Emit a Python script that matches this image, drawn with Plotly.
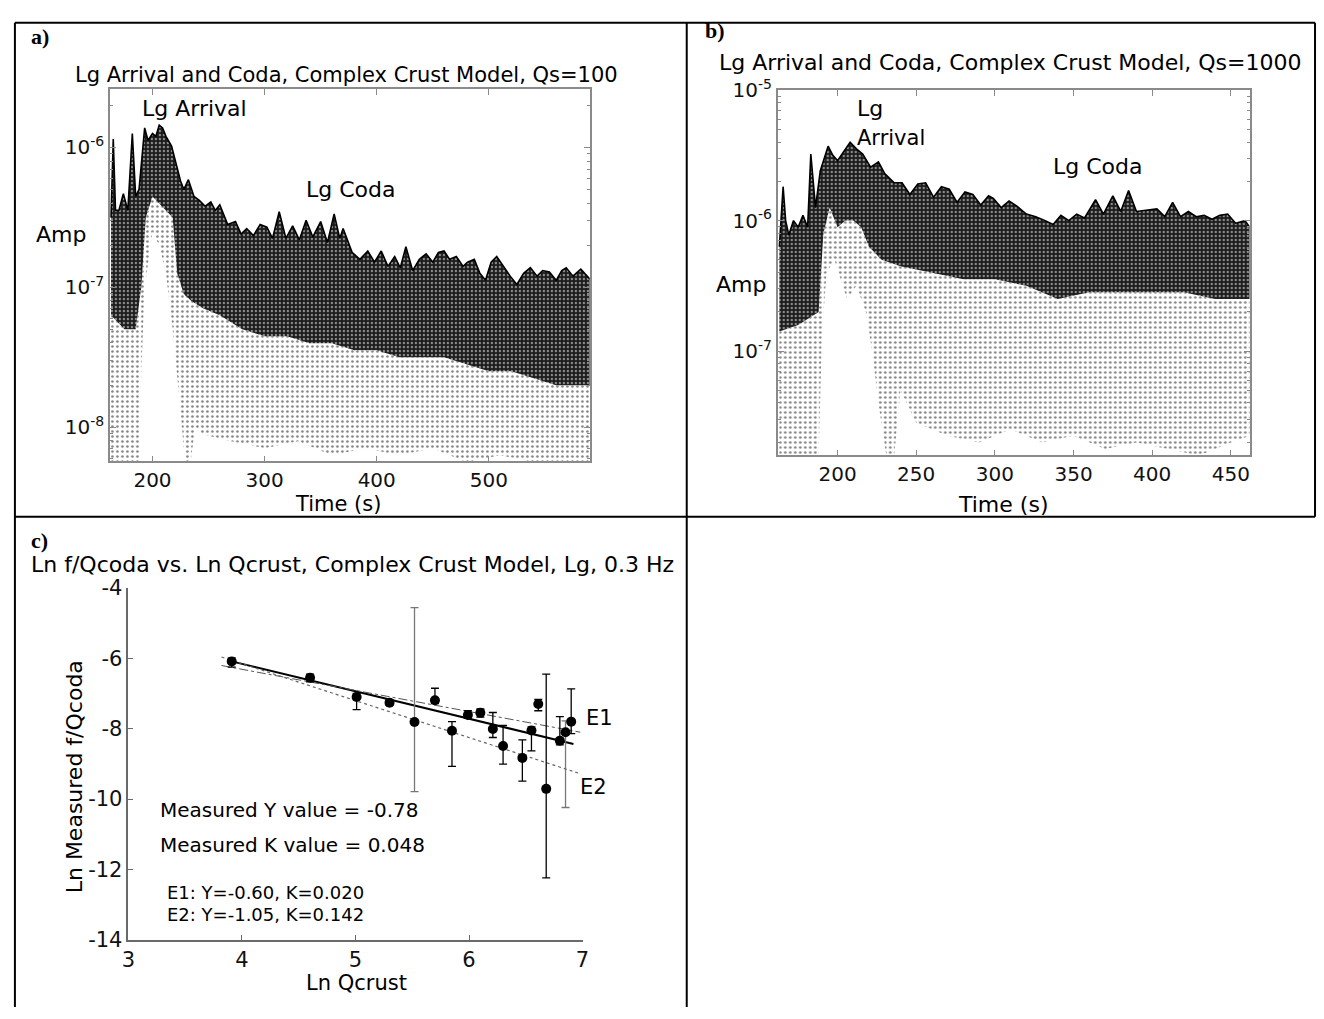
import numpy as np
import plotly.graph_objects as go

W, H = 1324, 1019
FONT = "DejaVu Sans"

# ---------------- panel a: Qs=100 (log10 amplitude readings) ----------------
a_top_t = [163, 165, 167, 170, 174, 178, 182, 185, 188, 193, 196, 200, 203, 206, 209, 212, 217, 222, 225, 228,
           232, 237, 242, 247, 252, 256, 260, 267, 274, 279, 284, 290, 296, 302, 307, 313, 319, 325, 331, 337,
           343, 350, 356, 362, 367, 370, 378, 385, 392, 398, 404, 410, 416, 421, 426, 432, 438, 444, 450, 455,
           460, 465, 471, 477, 481, 487, 492, 497, 502, 507, 513, 519, 525, 531, 537, 543, 548, 554, 560, 565,
           569, 575, 582, 590]
a_top_log = [-6.50, -5.94, -6.45, -6.45, -6.33, -6.45, -5.90, -6.35, -6.30, -5.86, -5.95, -5.90, -5.92, -5.84,
             -5.86, -5.92, -5.99, -6.15, -6.24, -6.30, -6.23, -6.35, -6.38, -6.42, -6.39, -6.45, -6.41, -6.55,
             -6.53, -6.62, -6.58, -6.63, -6.55, -6.57, -6.65, -6.46, -6.65, -6.56, -6.66, -6.52, -6.64, -6.53,
             -6.68, -6.475, -6.65, -6.58, -6.75, -6.80, -6.74, -6.82, -6.74, -6.85, -6.78, -6.86, -6.71, -6.88,
             -6.80, -6.76, -6.82, -6.75, -6.74, -6.80, -6.78, -6.85, -6.82, -6.80, -6.90, -6.95, -6.82, -6.78,
             -6.85, -6.92, -6.98, -6.90, -6.86, -6.92, -6.88, -6.89, -6.95, -6.88, -6.86, -6.92, -6.87, -6.94]
a_band_t = [163, 175, 185, 190, 194, 200, 206, 212, 218, 222, 228, 235, 245, 260, 280, 300, 320, 340, 360, 380,
            400, 420, 440, 460, 480, 500, 520, 540, 560, 590]
a_band_log = [-7.20, -7.30, -7.30, -7.00, -6.50, -6.35, -6.40, -6.45, -6.50, -6.90, -7.05, -7.10, -7.15, -7.20,
              -7.30, -7.35, -7.35, -7.40, -7.40, -7.45, -7.45, -7.50, -7.50, -7.50, -7.55, -7.60, -7.60, -7.65,
              -7.70, -7.70]
a_floor_t = [163, 188, 190, 193, 200, 206, 212, 218, 224, 229, 234, 238, 245, 270, 300, 330, 360, 390, 420, 450,
             480, 510, 540, 570, 590]
a_floor_log = [-8.25, -8.25, -7.60, -7.00, -6.60, -6.70, -6.90, -7.30, -7.80, -8.25, -8.25, -8.00, -8.05, -8.10,
               -8.15, -8.10, -8.20, -8.15, -8.20, -8.15, -8.25, -8.20, -8.25, -8.25, -8.25]
a_xticks = [200, 300, 400, 500]

# ---------------- panel b: Qs=1000 ----------------
b_top_t = [163, 165.4, 167, 169, 172, 175, 178, 181, 183, 186, 189, 194, 197, 200, 204, 208, 212, 216, 221, 226,
           230, 236, 241, 246, 251, 256, 261, 266, 271, 276, 281, 286, 291, 296, 299, 304, 309, 314, 320, 326,
           332, 337, 342, 347, 352, 357, 364, 369, 375, 380, 385, 390, 396, 403, 408, 413, 418, 423, 428, 433,
           438, 443, 448, 453, 459, 462]
b_top_log = [-6.20, -5.74, -6.00, -6.11, -6.00, -6.05, -5.96, -6.05, -5.49, -5.90, -5.62, -5.43, -5.50, -5.54,
             -5.47, -5.40, -5.45, -5.49, -5.59, -5.55, -5.64, -5.71, -5.71, -5.80, -5.72, -5.71, -5.82, -5.74,
             -5.76, -5.86, -5.78, -5.80, -5.88, -5.81, -5.83, -5.90, -5.85, -5.89, -5.95, -5.97, -6.00, -6.03,
             -5.96, -6.00, -5.95, -5.98, -5.84, -5.95, -5.81, -5.93, -5.77, -5.93, -5.92, -5.91, -5.97, -5.86,
             -5.97, -5.93, -5.97, -5.96, -5.99, -5.96, -5.95, -6.02, -6.00, -6.05]
b_band_t = [163, 175, 188, 191, 195, 200, 205, 210, 215, 220, 228, 240, 260, 280, 300, 320, 340, 360, 380, 400,
            420, 440, 462]
b_band_log = [-6.85, -6.80, -6.70, -6.10, -5.90, -6.05, -6.00, -6.00, -6.05, -6.20, -6.30, -6.35, -6.40, -6.45,
              -6.45, -6.50, -6.60, -6.55, -6.55, -6.55, -6.55, -6.60, -6.60]
b_floor_t = [163, 188, 190, 193, 198, 206, 212, 218, 222, 226, 231, 236, 240, 250, 270, 290, 310, 330, 350, 370,
             390, 410, 430, 450, 462]
b_floor_log = [-7.80, -7.80, -6.90, -6.40, -6.30, -6.60, -6.50, -6.70, -7.00, -7.40, -7.80, -7.80, -7.30, -7.55,
               -7.65, -7.70, -7.60, -7.70, -7.65, -7.75, -7.70, -7.75, -7.80, -7.70, -7.65]
b_xticks = [200, 250, 300, 350, 400, 450]

# ---------------- panel c: Ln f/Qcoda vs Ln Qcrust ----------------
ln_qcrust = [3.91, 4.60, 5.01, 5.30, 5.52, 5.70, 5.85, 5.99, 6.10, 6.21, 6.30, 6.47, 6.55, 6.61, 6.68, 6.80, 6.85, 6.90]
ln_fqcoda = [-6.09, -6.55, -7.10, -7.26, -7.81, -7.19, -8.06, -7.61, -7.55, -8.01, -8.49, -8.83, -8.05, -7.30,
             -9.71, -8.34, -8.10, -7.80]
err_up = [0.10, 0.10, 0.10, 0.08, 3.25, 0.34, 0.26, 0.12, 0.11, 0.47, 0.58, 0.51, 0.10, 0.13, 3.26, 0.68, 0.32, 0.93]
err_down = [0.16, 0.12, 0.36, 0.08, 1.98, 0.10, 1.01, 0.09, 0.12, 0.24, 0.52, 0.66, 0.58, 0.19, 2.53, 0.12, 2.14, 0.34]
gray_bars = [4, 16]

fit_Y, fit_K = -0.78, 0.048
e1_Y, e1_K = -0.60, 0.020
e2_Y, e2_K = -1.05, 0.142
fit_span = [3.91, 6.92]
bound_span = [3.82, 6.98]


def px(x):
    return x / W


def py(y):
    return 1 - y / H


fig = go.Figure()


def add_wave(t_floor, floor, t_band, band, t_top, top, xa, ya):
    # sparse scatter of low samples, dense cloud, and the upper edge of the traces
    fig.add_trace(go.Scatter(x=t_floor, y=10 ** np.array(floor), mode="lines", line=dict(width=0),
                             xaxis=xa, yaxis=ya, hoverinfo="skip"))
    fig.add_trace(go.Scatter(x=t_band, y=10 ** np.array(band), mode="lines", line=dict(width=0),
                             fill="tonexty",
                             fillpattern=dict(shape=".", fgcolor="black", bgcolor="white", size=5, solidity=0.2),
                             xaxis=xa, yaxis=ya, hoverinfo="skip"))
    fig.add_trace(go.Scatter(x=t_top, y=10 ** np.array(top), mode="lines", line=dict(color="black", width=1.6),
                             fill="tonexty",
                             fillpattern=dict(shape=".", fgcolor="white", bgcolor="#1c1c1c", size=4, solidity=0.28),
                             xaxis=xa, yaxis=ya, hoverinfo="skip"))


add_wave(a_floor_t, a_floor_log, a_band_t, a_band_log, a_top_t, a_top_log, "x", "y")
add_wave(b_floor_t, b_floor_log, b_band_t, b_band_log, b_top_t, b_top_log, "x2", "y2")

# fitted line and the two bounding lines, from the stated Y and K values
for (Y, K, span, dash, width, color) in [(fit_Y, fit_K, fit_span, "solid", 2, "black"),
                                         (e1_Y, e1_K, bound_span, "dashdot", 1, "#555"),
                                         (e2_Y, e2_K, bound_span, "dot", 1.2, "#666")]:
    xs = np.array(span)
    fig.add_trace(go.Scatter(x=xs, y=np.log(K) + Y * xs, mode="lines",
                             line=dict(color=color, width=width, dash=dash),
                             xaxis="x3", yaxis="y3", hoverinfo="skip"))

# error bars (two long ones drawn in grey)
for idx, col in [([i for i in range(len(ln_qcrust)) if i not in gray_bars], "black"), (gray_bars, "#777")]:
    fig.add_trace(go.Scatter(
        x=[ln_qcrust[i] for i in idx], y=[ln_fqcoda[i] for i in idx], mode="markers",
        marker=dict(size=1, color="rgba(0,0,0,0)"),
        error_y=dict(type="data", symmetric=False, array=[err_up[i] for i in idx],
                     arrayminus=[err_down[i] for i in idx], color=col, thickness=1.3, width=4),
        xaxis="x3", yaxis="y3", hoverinfo="skip"))

fig.add_trace(go.Scatter(x=ln_qcrust, y=ln_fqcoda, mode="markers",
                         marker=dict(size=10, color="black"), xaxis="x3", yaxis="y3"))

frame = dict(showline=True, linecolor="#8a8a8a", linewidth=1.5, mirror="ticks", ticks="inside", ticklen=6,
             tickcolor="#8a8a8a", showgrid=False, zeroline=False,
             tickfont=dict(family=FONT, size=20, color="#111"))
minor_log = dict(ticks="inside", ticklen=3, tickcolor="#8a8a8a", dtick="D1", showgrid=False)

c_axis = dict(showline=True, linecolor="#6a6a6a", linewidth=1.5, mirror=False, ticks="inside", ticklen=5,
              tickcolor="#6a6a6a", showgrid=False, zeroline=False,
              tickfont=dict(family=FONT, size=21, color="#111"))

c_yticks = [-14, -12, -10, -8, -6, -4]
c_xticks = [3, 4, 5, 6, 7]

fig.update_layout(
    width=W, height=H, margin=dict(l=0, r=0, t=0, b=0),
    paper_bgcolor="white", plot_bgcolor="white", showlegend=False,
    xaxis=dict(domain=[px(104), px(589)], range=[162, 590], anchor="y", tickvals=a_xticks, **frame),
    yaxis=dict(domain=[py(459), py(77)], type="log", range=[-8.244, -5.582], anchor="x",
               tickvals=[1e-8, 1e-7, 1e-6],
               ticktext=["10<sup>-8</sup>", "10<sup>-7</sup>", "10<sup>-6</sup>"],
               minor=minor_log, **frame),
    xaxis2=dict(domain=[px(779), px(1256)], range=[162, 462], anchor="y2", tickvals=b_xticks, **frame),
    yaxis2=dict(domain=[py(453), py(78)], type="log", range=[-7.80, -4.999], anchor="x2",
                tickvals=[1e-7, 1e-6, 1e-5],
                ticktext=["10<sup>-7</sup>", "10<sup>-6</sup>", "10<sup>-5</sup>"],
                minor=minor_log, **frame),
    xaxis3=dict(domain=[px(122.7), px(581.7)], range=[3, 7], anchor="y3", tickvals=c_xticks,
                ticktext=[str(v) for v in c_xticks], **c_axis),
    yaxis3=dict(domain=[py(950), py(589)], range=[-14, -4], anchor="x3", tickvals=c_yticks,
                ticktext=[str(v) for v in c_yticks], **c_axis),
)


def label(text, x, y, size=21, xanchor="center", family=FONT, angle=0, bold=False):
    fig.add_annotation(text=f"<b>{text}</b>" if bold else text, x=px(x), y=py(y), xref="paper", yref="paper",
                       showarrow=False, xanchor=xanchor, yanchor="middle", textangle=angle,
                       font=dict(family=family, size=size, color="black"))


# panel a texts
label("a)", 22, 23, size=22, xanchor="left", family="Liberation Serif", bold=True)
label("Lg Arrival and Coda, Complex Crust Model, Qs=100", 343, 63, size=21)
label("Lg Arrival", 189, 97, size=22)
label("Lg Coda", 347, 180, size=22)
label("Amp", 55, 226, size=22)
label("Time (s)", 335, 503, size=21)

# panel b texts
label("b)", 703, 17, size=22, xanchor="left", family="Liberation Serif", bold=True)
label("Lg Arrival and Coda, Complex Crust Model, Qs=1000", 718, 50, size=22, xanchor="left")
label("Lg", 872, 97, size=22)
label("Arrival", 893, 127, size=21)
label("Lg Coda", 1102, 157, size=22)
label("Amp", 742, 278, size=22)
label("Time (s)", 1007, 503, size=22)

# panel c texts
label("c)", 22, 540, size=22, xanchor="left", family="Liberation Serif", bold=True)
label("Ln f/Qcoda vs. Ln Qcrust, Complex Crust Model, Lg, 0.3 Hz", 22, 565, size=22, xanchor="left")
label("Ln Measured f/Qcoda", 68, 783, size=22, angle=-90)
label("Ln Qcrust", 353, 994, size=21)
label(f"Measured Y value = {fit_Y:.2f}", 153, 817, size=20, xanchor="left")
label(f"Measured K value = {fit_K:.3f}", 153, 853, size=20, xanchor="left")
label(f"E1: Y={e1_Y:.2f}, K={e1_K:.3f}", 160, 901, size=18, xanchor="left")
label(f"E2: Y={e2_Y:.2f}, K={e2_K:.3f}", 160, 924, size=18, xanchor="left")
label("E1", 583, 722, size=21, xanchor="left")
label("E2", 577, 793, size=21, xanchor="left")

# table borders around the three cells
border = dict(color="black", width=2)
for x0, y0, x1, y1 in [(8, 9, 1322, 9), (8, 516, 1322, 516), (8, 9, 8, 1019), (687, 9, 687, 1019),
                       (1322, 9, 1322, 516)]:
    fig.add_shape(type="line", x0=px(x0), y0=py(y0), x1=px(x1), y1=py(y1), xref="paper", yref="paper",
                  line=border)

# the page body carries a default margin; drop it so the figure fills the window exactly
fig.write_html("out.html", post_script="document.body.style.margin='0';document.body.style.overflow='hidden';")
